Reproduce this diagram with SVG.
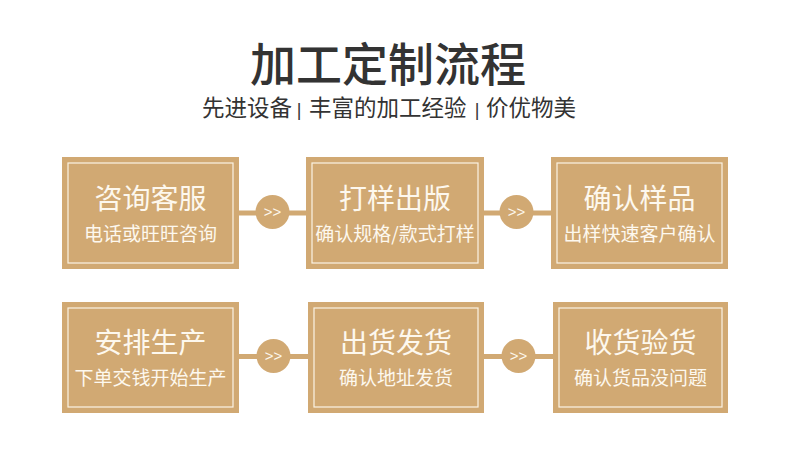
<svg xmlns="http://www.w3.org/2000/svg" width="790" height="451" viewBox="0 0 790 451">
<defs>
<style>
.box{fill:#d1a973;}
.inner{fill:none;stroke:#fbf3e4;stroke-width:1.2;}
.t{font-family:"Noto Sans CJK SC","Noto Sans",sans-serif;fill:#fdf8ee;text-anchor:middle;}
.h{font-size:28px;}
.s{font-size:19px;}
.line{stroke:#d1a973;stroke-width:5;fill:none;}
.dot{fill:#d1a973;}
.arr{font-family:"Liberation Sans",sans-serif;font-size:15px;fill:#fdf8ee;text-anchor:middle;}
.sub{font-family:"Noto Sans CJK SC",sans-serif;font-size:22.5px;fill:#333333;}
.bar{font-family:"Liberation Sans",sans-serif;font-size:18px;fill:#333333;text-anchor:middle;}
</style>
</defs>
<rect width="790" height="451" fill="#ffffff"/>
<text x="388" y="81" font-family="'Noto Sans CJK SC',sans-serif" font-size="46" fill="#333333" text-anchor="middle" font-weight="500">加工定制流程</text>
<text class="sub" x="202" y="116">先进设备</text>
<text class="bar" x="299" y="116">|</text>
<text class="sub" x="309" y="116">丰富的加工经验</text>
<text class="bar" x="477" y="116">|</text>
<text class="sub" x="486" y="116">价优物美</text>
<g id="connectors">
<line class="line" x1="239" y1="213" x2="306" y2="213"/>
<line class="line" x1="484" y1="213" x2="551" y2="213"/>
<line class="line" x1="239" y1="356.5" x2="308" y2="356.5"/>
<line class="line" x1="484" y1="356.5" x2="553" y2="356.5"/>
<circle class="dot" cx="272.5" cy="212" r="17"/>
<circle class="dot" cx="516.5" cy="212" r="17"/>
<circle class="dot" cx="273.5" cy="356" r="17"/>
<circle class="dot" cx="518.5" cy="356" r="17"/>
<text class="arr" x="272.5" y="217">&gt;&gt;</text>
<text class="arr" x="516.5" y="217">&gt;&gt;</text>
<text class="arr" x="273.5" y="361">&gt;&gt;</text>
<text class="arr" x="518.5" y="361">&gt;&gt;</text>
</g>
<g id="n1">
<rect class="box" x="62" y="157" width="177" height="112"/>
<rect class="inner" x="68" y="163" width="165" height="100"/>
<text class="t h" x="150.5" y="209">咨询客服</text>
<text class="t s" x="150.5" y="241">电话或旺旺咨询</text>
</g>
<g id="n2">
<rect class="box" x="306" y="157" width="178" height="112"/>
<rect class="inner" x="312" y="163" width="166" height="100"/>
<text class="t h" x="395" y="209">打样出版</text>
<text class="t s" x="395" y="241">确认规格/款式打样</text>
</g>
<g id="n3">
<rect class="box" x="551" y="157" width="177" height="112"/>
<rect class="inner" x="557" y="163" width="165" height="100"/>
<text class="t h" x="639.5" y="209">确认样品</text>
<text class="t s" x="639.5" y="241">出样快速客户确认</text>
</g>
<g id="n4">
<rect class="box" x="62" y="302" width="177" height="111"/>
<rect class="inner" x="68" y="308" width="165" height="99"/>
<text class="t h" x="150.5" y="353">安排生产</text>
<text class="t s" x="150.5" y="385">下单交钱开始生产</text>
</g>
<g id="n5">
<rect class="box" x="308" y="302" width="176" height="111"/>
<rect class="inner" x="314" y="308" width="164" height="99"/>
<text class="t h" x="396" y="353">出货发货</text>
<text class="t s" x="396" y="385">确认地址发货</text>
</g>
<g id="n6">
<rect class="box" x="553" y="302" width="175" height="111"/>
<rect class="inner" x="559" y="308" width="163" height="99"/>
<text class="t h" x="640.5" y="353">收货验货</text>
<text class="t s" x="640.5" y="385">确认货品没问题</text>
</g>
</svg>
